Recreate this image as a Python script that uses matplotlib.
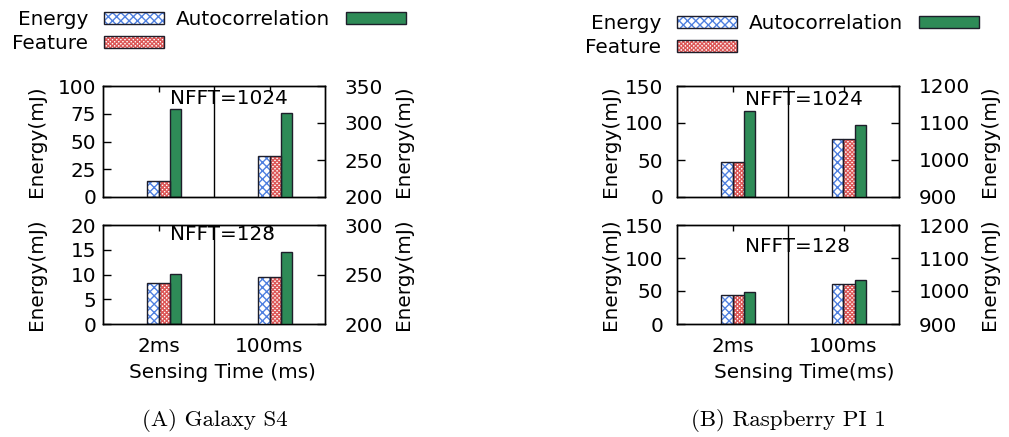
import matplotlib
matplotlib.use("Agg")
import matplotlib.pyplot as plt
from matplotlib.patches import Patch
import numpy as np

plt.rcParams['font.family'] = ['DejaVu Sans']
plt.rcParams['hatch.linewidth'] = 1.0

# ---------------- data ----------------
groups = ["2ms", "100ms"]
series = ["Energy", "Feature", "Autocorrelation"]

# Galaxy S4 : 2ms group on left axis, 100ms group on right axis
s4_1024_2ms = [14.7, 14.7, 79.0]
s4_1024_100ms = [255.8, 255.8, 313.0]
s4_128_2ms = [8.2, 8.2, 10.1]
s4_128_100ms = [247.0, 247.0, 273.2]

# Raspberry PI 1
pi_1024_2ms = [47.7, 47.7, 116.7]
pi_1024_100ms = [1055.9, 1055.9, 1093.7]
pi_128_2ms = [43.3, 43.3, 48.8]
pi_128_100ms = [1020.8, 1020.8, 1033.9]

s4_left_lims = [(0, 100), (0, 20)]
s4_right_lims = [(200, 350), (200, 300)]
s4_left_ticks = [[0, 25, 50, 75, 100], [0, 5, 10, 15, 20]]
s4_right_ticks = [[200, 250, 300, 350], [200, 250, 300]]
pi_left_lims = [(0, 150), (0, 150)]
pi_right_lims = [(900, 1200), (900, 1200)]
pi_left_ticks = [[0, 50, 100, 150], [0, 50, 100, 150]]
pi_right_ticks = [[900, 1000, 1100, 1200], [900, 1000, 1100, 1200]]
nfft_labels = ["NFFT=1024", "NFFT=128"]

# ---------------- style ----------------
BLUE = "#4f80e0"
RED = "#dc5858"
GREEN = "#2e8b57"
EDGE = "#1e1e2a"
FS = 14.4
offsets = [-0.05, 0.05, 0.15]
width = 0.1
hatches = ["xxxx", "xxxxxxxx", None]
hcolors = [BLUE, RED, GREEN]


def draw_bars(ax, xc, vals):
    for j, v in enumerate(vals):
        x = xc + offsets[j]
        if hatches[j]:
            ax.bar(x, v, width, color="white", edgecolor=hcolors[j],
                   hatch=hatches[j], linewidth=0, zorder=2)
            ax.bar(x, v, width, fill=False, edgecolor=EDGE, linewidth=1.0, zorder=3)
        else:
            ax.bar(x, v, width, color=hcolors[j], edgecolor=EDGE,
                   linewidth=1.0, zorder=2)


def panel(rect, left_vals, right_vals, llim, rlim, lticks, rticks, label,
          text_xy, bottom, lpad, ylab_x, xlabel=None, xlabel_x=0.5):
    ax = fig.add_axes(rect)
    ax2 = ax.twinx()
    draw_bars(ax, 0, left_vals)
    draw_bars(ax2, 1, right_vals)
    ax.set_xlim(-0.5, 1.5)
    ax.set_ylim(*llim)
    ax2.set_ylim(*rlim)
    ax.set_yticks(lticks)
    ax2.set_yticks(rticks)
    ax.axvline(0.5, color="black", lw=1.0, zorder=1)
    ax.set_xticks([0, 1])
    if bottom:
        ax.set_xticklabels(groups)
    else:
        ax.set_xticklabels([])
    ax.tick_params(axis="x", direction="in", top=True, length=4, width=1,
                   labelsize=FS, pad=9)
    ax.tick_params(axis="y", direction="in", length=6, width=1,
                   labelsize=FS, pad=lpad)
    ax2.tick_params(axis="y", direction="in", length=6, width=1,
                    labelsize=FS, pad=14)
    for a in (ax, ax2):
        for s in a.spines.values():
            s.set_linewidth(1.0)
    ax.set_ylabel("Energy(mJ)", fontsize=FS)
    ax2.set_ylabel("Energy(mJ)", fontsize=FS, rotation=90)
    ax.yaxis.set_label_coords(-0.255, 0.5)
    ax2.yaxis.set_label_coords(ylab_x, 0.5)
    ax.text(text_xy[0], text_xy[1], label, transform=ax.transAxes,
            fontsize=FS, ha="left", va="center", zorder=5)
    if xlabel:
        ax.set_xlabel(xlabel, fontsize=FS)
        ax.xaxis.set_label_coords(xlabel_x, -0.49)
        ax.xaxis.label.set_va("center")
    return ax


W, H = 1009, 437
fig = plt.figure(figsize=(W / 100, H / 100), dpi=100)


def rect(x0, x1, ytop, ybot):
    return [x0 / W, 1 - ybot / H, (x1 - x0) / W, (ybot - ytop) / H]


# Galaxy S4
panel(rect(103, 325, 86, 197), s4_1024_2ms, s4_1024_100ms, s4_left_lims[0],
      s4_right_lims[0], s4_left_ticks[0], s4_right_ticks[0], nfft_labels[0],
      (0.30, 0.89), False, 5, 1.31)
panel(rect(103, 325, 225, 324), s4_128_2ms, s4_128_100ms, s4_left_lims[1],
      s4_right_lims[1], s4_left_ticks[1], s4_right_ticks[1], nfft_labels[1],
      (0.30, 0.90), True, 5, 1.31, "Sensing Time (ms)", 0.536)
# Raspberry PI
panel(rect(677, 899, 86, 197), pi_1024_2ms, pi_1024_100ms, pi_left_lims[0],
      pi_right_lims[0], pi_left_ticks[0], pi_right_ticks[0], nfft_labels[0],
      (0.307, 0.875), False, 10, 1.365)
panel(rect(677, 899, 225, 324), pi_128_2ms, pi_128_100ms, pi_left_lims[1],
      pi_right_lims[1], pi_left_ticks[1], pi_right_ticks[1], nfft_labels[1],
      (0.307, 0.78), True, 10, 1.365, "Sensing Time(ms)", 0.574)


def make_handles():
    hs = []
    for j in range(3):
        if hatches[j]:
            hs.append((Patch(facecolor="white", edgecolor=hcolors[j],
                             hatch=hatches[j], linewidth=0),
                       Patch(fill=False, edgecolor=EDGE, linewidth=1.0)))
        else:
            hs.append(Patch(facecolor=hcolors[j], edgecolor=EDGE, linewidth=1.0))
    return hs


for (lx, ty) in [(12, 10), (585, 14)]:
    fig.legend(make_handles(), series, ncol=2, markerfirst=False,
               loc="upper left", bbox_to_anchor=(lx / W, 1 - ty / H),
               frameon=False, fontsize=FS, handlelength=3.0,
               handleheight=0.6, handletextpad=0.8, columnspacing=0.6,
               labelspacing=0.25, borderpad=0, borderaxespad=0)

fig.text(215 / W, 1 - 420 / H, "(A) Galaxy S4", family="cmr10",
         fontsize=16.5, ha="center", va="center")
fig.text(788 / W, 1 - 420 / H, "(B) Raspberry PI 1", family="cmr10",
         fontsize=16.5, ha="center", va="center")

fig.savefig("out.png", dpi=100)
